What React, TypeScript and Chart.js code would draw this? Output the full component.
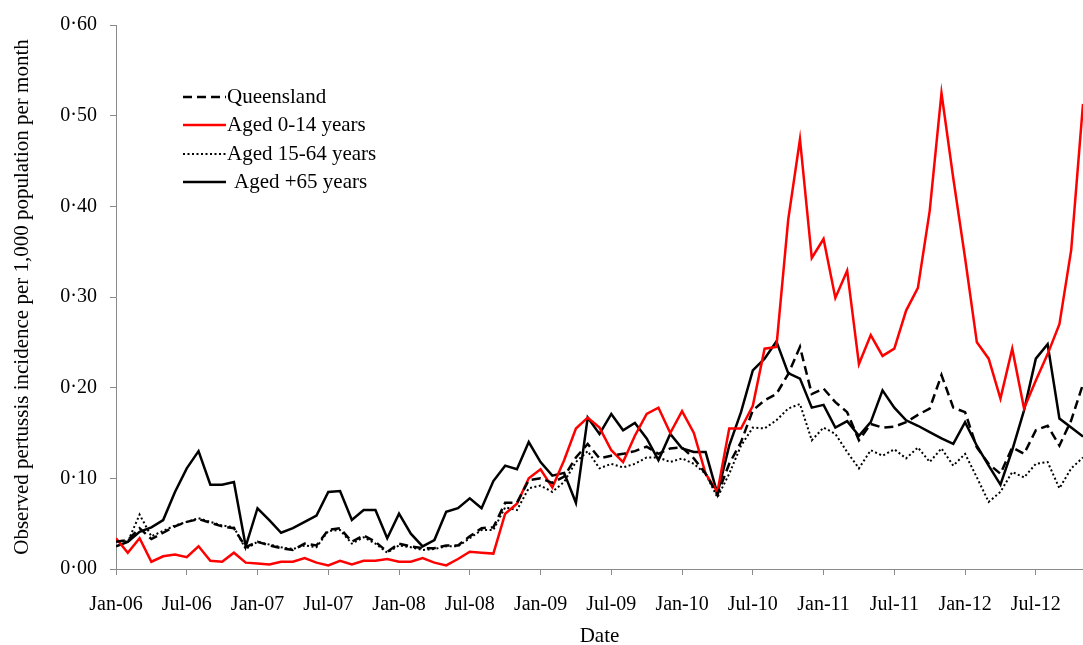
import React, { useEffect, useRef } from 'react';
import { Chart, registerables } from 'chart.js';

Chart.register(...registerables);

// Monthly values, Jan-06 (index 0) .. Nov-12 (index 82)
const queensland = [
  0.030, 0.032, 0.045, 0.033, 0.040, 0.047, 0.052, 0.055, 0.051, 0.047,
  0.045, 0.024, 0.030, 0.026, 0.023, 0.021, 0.028, 0.026, 0.043, 0.045,
  0.030, 0.037, 0.030, 0.019, 0.028, 0.025, 0.023, 0.023, 0.026, 0.026,
  0.036, 0.045, 0.046, 0.073, 0.073, 0.098, 0.100, 0.095, 0.102, 0.123,
  0.138, 0.122, 0.125, 0.127, 0.130, 0.135, 0.127, 0.133, 0.134, 0.122,
  0.105, 0.082, 0.116, 0.140, 0.175, 0.186, 0.193, 0.215, 0.245, 0.193,
  0.199, 0.184, 0.173, 0.142, 0.160, 0.156, 0.157, 0.162, 0.170, 0.177,
  0.214, 0.178, 0.173, 0.134, 0.116, 0.105, 0.134, 0.127, 0.153, 0.158,
  0.136, 0.164, 0.204,
];

const aged0to14 = [
  0.034, 0.018, 0.034, 0.008, 0.014, 0.016, 0.013, 0.025, 0.009, 0.008,
  0.018, 0.007, 0.006, 0.005, 0.008, 0.008, 0.012, 0.007, 0.004, 0.009,
  0.005, 0.009, 0.009, 0.011, 0.008, 0.008, 0.012, 0.007, 0.004, 0.011,
  0.019, 0.018, 0.017, 0.061, 0.072, 0.100, 0.110, 0.090, 0.120, 0.155,
  0.167, 0.156, 0.131, 0.118, 0.147, 0.171, 0.178, 0.150, 0.174, 0.150,
  0.105, 0.085, 0.155, 0.155, 0.180, 0.243, 0.245, 0.385, 0.474, 0.343,
  0.364, 0.299, 0.329, 0.226, 0.258, 0.235, 0.243, 0.285, 0.310, 0.395,
  0.525, 0.431, 0.343, 0.250, 0.232, 0.188, 0.243, 0.177, 0.208, 0.237,
  0.270, 0.352, 0.513,
];

const aged15to64 = [
  0.032, 0.030, 0.060, 0.036, 0.042, 0.048, 0.052, 0.056, 0.052, 0.048,
  0.046, 0.022, 0.030, 0.027, 0.024, 0.022, 0.026, 0.024, 0.042, 0.043,
  0.028, 0.035, 0.028, 0.018, 0.026, 0.024, 0.021, 0.022, 0.025, 0.025,
  0.034, 0.043, 0.043, 0.068, 0.065, 0.089, 0.092, 0.085, 0.096, 0.118,
  0.130, 0.111, 0.116, 0.112, 0.116, 0.123, 0.123, 0.118, 0.122, 0.116,
  0.105, 0.079, 0.105, 0.136, 0.156, 0.155, 0.164, 0.177, 0.182, 0.142,
  0.156, 0.149, 0.129, 0.111, 0.131, 0.125, 0.132, 0.122, 0.134, 0.118,
  0.133, 0.114, 0.127, 0.101, 0.074, 0.085, 0.107, 0.101, 0.116, 0.118,
  0.089, 0.111, 0.123,
];

const aged65plus = [
  0.025, 0.030, 0.041, 0.046, 0.054, 0.085, 0.111, 0.130, 0.093, 0.093,
  0.096, 0.025, 0.067, 0.054, 0.040, 0.045, 0.052, 0.059, 0.085, 0.086,
  0.054, 0.065, 0.065, 0.034, 0.061, 0.039, 0.025, 0.032, 0.063, 0.067,
  0.078, 0.067, 0.097, 0.114, 0.110, 0.140, 0.118, 0.103, 0.106, 0.073,
  0.167, 0.149, 0.171, 0.153, 0.161, 0.144, 0.120, 0.149, 0.133, 0.129,
  0.129, 0.083, 0.136, 0.173, 0.219, 0.232, 0.251, 0.216, 0.210, 0.178,
  0.181, 0.156, 0.163, 0.147, 0.162, 0.197, 0.178, 0.164, 0.158, 0.151,
  0.144, 0.138, 0.162, 0.136, 0.114, 0.093, 0.131, 0.175, 0.232, 0.248,
  0.166, 0.156, 0.146,
];

const xTickLabels = [
  'Jan-06', 'Jul-06', 'Jan-07', 'Jul-07', 'Jan-08', 'Jul-08', 'Jan-09',
  'Jul-09', 'Jan-10', 'Jul-10', 'Jan-11', 'Jul-11', 'Jan-12', 'Jul-12',
];
const yTickLabels = ['0·00', '0·10', '0·20', '0·30', '0·40', '0·50', '0·60'];
const seriesNames = ['Queensland', 'Aged 0-14 years', 'Aged 15-64 years', 'Aged +65 years'];

const FONT = "'Liberation Serif', 'Times New Roman', serif";
const AXIS_GREY = '#8a8a8a';

const toPoints = (arr: number[]) => arr.map((v, i) => ({ x: i, y: v }));

const insetLegend = {
  id: 'insetLegend',
  afterDraw(chart: any) {
    const ctx = chart.ctx as CanvasRenderingContext2D;
    const rows = [97, 125, 154, 182];
    ctx.save();
    chart.data.datasets.forEach((ds: any, i: number) => {
      const y = rows[i];
      ctx.strokeStyle = ds.borderColor;
      ctx.lineWidth = ds.borderWidth;
      ctx.setLineDash(ds.borderDash || []);
      ctx.beginPath();
      ctx.moveTo(183, y);
      ctx.lineTo(226, y);
      ctx.stroke();
      ctx.setLineDash([]);
      ctx.fillStyle = '#000';
      ctx.font = `21px ${FONT}`;
      ctx.textBaseline = 'middle';
      ctx.textAlign = 'left';
      ctx.fillText(ds.label, i === 3 ? 234 : 227, y);
    });
    ctx.restore();
  },
};

export default function App() {
  const canvasRef = useRef<HTMLCanvasElement | null>(null);

  useEffect(() => {
    if (!canvasRef.current) return;
    const chart = new Chart(canvasRef.current, {
      type: 'line',
      data: {
        datasets: [
          {
            label: seriesNames[0],
            data: toPoints(queensland),
            borderColor: '#000',
            borderWidth: 2.5,
            borderDash: [9, 5],
            pointRadius: 0,
            tension: 0,
          },
          {
            label: seriesNames[1],
            data: toPoints(aged0to14),
            borderColor: '#ff0000',
            borderWidth: 2.5,
            pointRadius: 0,
            tension: 0,
          },
          {
            label: seriesNames[2],
            data: toPoints(aged15to64),
            borderColor: '#000',
            borderWidth: 2,
            borderDash: [2, 2.5],
            pointRadius: 0,
            tension: 0,
          },
          {
            label: seriesNames[3],
            data: toPoints(aged65plus),
            borderColor: '#000',
            borderWidth: 2.5,
            pointRadius: 0,
            tension: 0,
          },
        ],
      },
      options: {
        animation: false,
        responsive: false,
        devicePixelRatio: 1,
        layout: { padding: { top: 23, left: 0, right: 0, bottom: 0 } },
        plugins: {
          legend: { display: false },
          tooltip: { enabled: false },
        },
        scales: {
          x: {
            type: 'linear',
            min: 0,
            max: 82,
            afterBuildTicks: (scale: any) => {
              scale.ticks = xTickLabels.map((_, k) => ({ value: k * 6 }));
            },
            afterFit: (scale: any) => {
              scale.height = 76;
            },
            ticks: {
              autoSkip: false,
              maxRotation: 0,
              padding: 18,
              color: '#000',
              font: { family: FONT, size: 20 },
              callback: (v: any) => xTickLabels[Math.round(Number(v) / 6)],
            },
            grid: {
              drawOnChartArea: false,
              drawTicks: true,
              tickLength: 6,
              color: AXIS_GREY,
            },
            border: { color: AXIS_GREY, width: 1 },
            title: {
              display: true,
              text: 'Date',
              color: '#000',
              font: { family: FONT, size: 21, lineHeight: 0.8 },
              padding: { top: 0, bottom: 0 },
            },
          },
          y: {
            min: 0,
            max: 0.6,
            afterFit: (scale: any) => {
              scale.width = 116;
            },
            ticks: {
              stepSize: 0.1,
              padding: 13,
              color: '#000',
              font: { family: FONT, size: 20 },
              callback: (_v: any, idx: number) => yTickLabels[idx],
            },
            grid: {
              drawOnChartArea: false,
              drawTicks: true,
              tickLength: 6,
              color: AXIS_GREY,
            },
            border: { color: AXIS_GREY, width: 1 },
            title: {
              display: true,
              text: 'Observed pertussis incidence per 1,000 population per month',
              color: '#000',
              font: { family: FONT, size: 21 },
              padding: { top: 10, bottom: 0 },
            },
          },
        },
      },
      plugins: [insetLegend],
    } as any);
    return () => chart.destroy();
  }, []);

  return (
    <div style={{ position: 'fixed', left: 0, top: 0, width: 1083, height: 645, background: '#fff' }}>
      <canvas ref={canvasRef} width={1083} height={645} />
    </div>
  );
}
